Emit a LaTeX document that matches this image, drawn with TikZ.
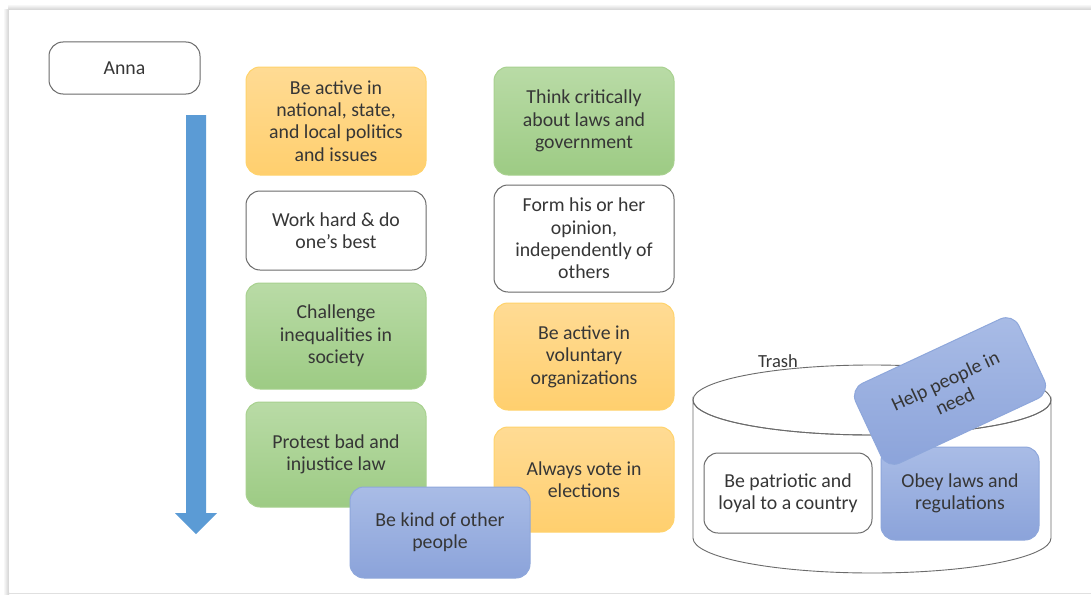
\documentclass[tikz,border=0pt]{standalone}
\usepackage{fontspec}
\setmainfont{Carlito}
\definecolor{txt}{HTML}{363636}
\definecolor{edgegray}{HTML}{6B6B6B}
\definecolor{arrowblue}{HTML}{5B9BD5}
\definecolor{goldtop}{HTML}{FFDB94}
\definecolor{goldbot}{HTML}{FFCF6E}
\definecolor{goldedge}{HTML}{FFD36B}
\definecolor{greentop}{HTML}{B9DBA6}
\definecolor{greenbot}{HTML}{9DCB84}
\definecolor{greenedge}{HTML}{A8D18F}
\definecolor{bluetop}{HTML}{A9BCE6}
\definecolor{bluebot}{HTML}{8BA3DA}
\definecolor{blueedge}{HTML}{8EA7DB}
\begin{document}
\begin{tikzpicture}[x=1pt,y=-1pt,
    card/.style={rounded corners=14pt,align=center,text=txt,line width=1pt,
        font=\fontsize{19.8}{22.4}\selectfont,inner sep=2pt},
    plain/.style={card,draw=edgegray,fill=white},
    gold/.style={card,draw=goldedge,top color=goldtop,bottom color=goldbot},
    green/.style={card,draw=greenedge,top color=greentop,bottom color=greenbot},
    blue/.style={card,draw=blueedge,top color=bluetop,bottom color=bluebot}]
\useasboundingbox (0,0) rectangle (1091,594);
% page edge
\shade[top color=white,bottom color=black!18] (8,4) rectangle (1091,10);
\shade[left color=white,right color=black!18] (3,10) rectangle (9,594);
\fill[white] (9,10) rectangle (1091,592);
\draw[black!12] (9,593) -- (1091,593);

\node[plain,minimum width=151,minimum height=52] (anna) at (124.5,68) {Anna};
% time arrow
\fill[arrowblue] (186,115) -- (206,115) -- (206,513) -- (217,513) -- (196,534)
    -- (175,513) -- (186,513) -- cycle;

% first column
\node[gold,minimum width=180,minimum height=108] (1) at (336,121)
    {Be active in\\national, state,\\and local politics\\and issues};
\node[plain,minimum width=180,minimum height=79] (2) at (336,230.5)
    {Work hard \& do\\one’s best};
\node[green,minimum width=180,minimum height=106] (3) at (336,336)
    {Challenge\\inequalities in\\society};
\node[green,minimum width=180,minimum height=105] (4) at (336,454.5)
    {Protest bad and\\injustice law};

% second column
\node[green,minimum width=180,minimum height=108] (5) at (584,121)
    {Think critically\\about laws and\\government};
\node[plain,minimum width=180,minimum height=107] (6) at (584,238.5)
    {Form his or her\\opinion,\\independently of\\others};
\node[gold,minimum width=180,minimum height=107] (7) at (584,356.5)
    {Be active in\\voluntary\\organizations};
\node[gold,minimum width=180,minimum height=105] (8) at (584,479.5)
    {Always vote in\\elections};
\node[blue,minimum width=180,minimum height=91] (kind) at (440,532.5)
    {Be kind of other\\people};

% trash can
\draw[edgegray,line width=0.9pt,fill=white] (693,538) -- (693,400)
    arc[start angle=180,end angle=360,x radius=179,y radius=-35] -- (1051,538)
    arc[start angle=0,end angle=-180,x radius=179,y radius=-35] -- cycle;
\draw[edgegray,line width=0.9pt] (872,400) ellipse[x radius=179,y radius=35];
\node[text=txt,font=\fontsize{18.5}{20}\selectfont] (trash) at (778,361) {Trash};
\node[plain,minimum width=168,minimum height=80] (patriot) at (788,493)
    {Be patriotic and\\loyal to a country};
\node[blue,minimum width=158,minimum height=93] (obey) at (960,493.5)
    {Obey laws and\\regulations};
\node[blue,minimum width=180,minimum height=88,rotate=25] (help) at (950,391)
    {Help people in\\need};
\end{tikzpicture}
\end{document}
